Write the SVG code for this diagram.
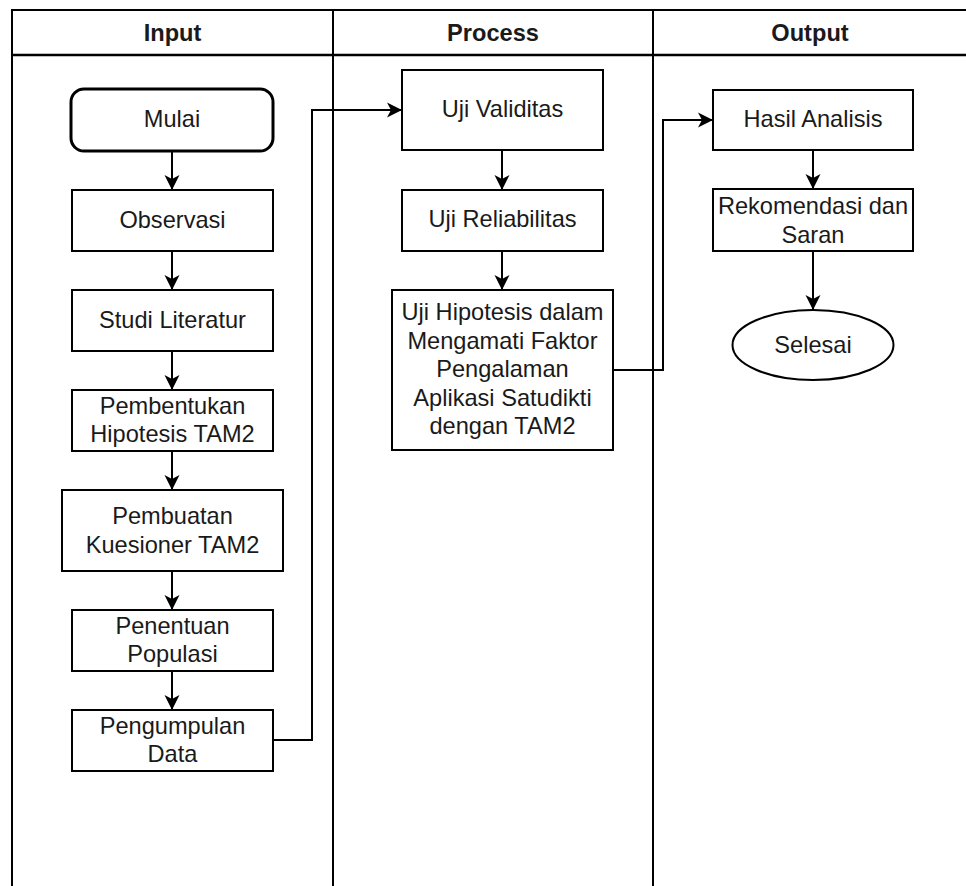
<svg xmlns="http://www.w3.org/2000/svg" width="966" height="886" viewBox="0 0 966 886">
<style>
.t{font-family:"Liberation Sans",Arial,sans-serif;font-size:23.6px;fill:#1a1a1a;text-anchor:middle}
.h{font-family:"Liberation Sans",Arial,sans-serif;font-size:23.6px;font-weight:bold;fill:#1a1a1a;text-anchor:middle}
.b{fill:#fff;stroke:#000;stroke-width:2}
.c{fill:none;stroke:#000;stroke-width:2}
.ln{stroke:#000;stroke-width:2;fill:none}
</style>
<defs>
<marker id="ar" markerUnits="userSpaceOnUse" markerWidth="20" markerHeight="20" viewBox="-16 -10 20 20" refX="0" refY="0" orient="auto">
<path d="M0,0 L-15,-7.5 L-11,0 L-15,7.5 Z" fill="#000"/>
</marker>
</defs>
<rect width="966" height="886" fill="#fff"/>
<g id="pool">
<path class="ln" d="M12,886 V10 H966"/>
<line x1="12" y1="55" x2="966" y2="55" stroke="#000" stroke-width="2.5"/>
<line class="ln" x1="333" y1="10" x2="333" y2="886"/>
<line class="ln" x1="653" y1="10" x2="653" y2="886"/>
<text class="h" x="172.5" y="41">Input</text>
<text class="h" x="493" y="41">Process</text>
<text class="h" x="810" y="41">Output</text>
</g>
<g id="connectors">
<line class="c" x1="172" y1="151" x2="172" y2="190" marker-end="url(#ar)"/>
<line class="c" x1="172" y1="251" x2="172" y2="290" marker-end="url(#ar)"/>
<line class="c" x1="172" y1="351" x2="172" y2="390" marker-end="url(#ar)"/>
<line class="c" x1="172" y1="451" x2="172" y2="490" marker-end="url(#ar)"/>
<line class="c" x1="172" y1="571" x2="172" y2="610" marker-end="url(#ar)"/>
<line class="c" x1="172" y1="671" x2="172" y2="710" marker-end="url(#ar)"/>
<path class="c" d="M273,740 H312 V110 H402" marker-end="url(#ar)"/>
<line class="c" x1="502" y1="150" x2="502" y2="190" marker-end="url(#ar)"/>
<line class="c" x1="502" y1="251" x2="502" y2="290" marker-end="url(#ar)"/>
<path class="c" d="M613,370 H663 V120 H713" marker-end="url(#ar)"/>
<line class="c" x1="813" y1="150" x2="813" y2="189" marker-end="url(#ar)"/>
<line class="c" x1="813" y1="251" x2="813" y2="310" marker-end="url(#ar)"/>
</g>
<g id="mulai">
<rect x="71" y="89" width="202" height="62" rx="13" fill="#fff" stroke="#000" stroke-width="3"/>
<text class="t" x="172" y="127">Mulai</text>
</g>
<g id="observasi">
<rect class="b" x="72" y="190" width="201" height="61"/>
<text class="t" x="172.5" y="227.5">Observasi</text>
</g>
<g id="studi">
<rect class="b" x="72" y="290" width="201" height="61"/>
<text class="t" x="172.5" y="327.5">Studi Literatur</text>
</g>
<g id="pembentukan">
<rect class="b" x="72" y="390" width="201" height="61"/>
<text class="t" x="172.5" y="413.5">Pembentukan</text>
<text class="t" x="172.5" y="441.5">Hipotesis TAM2</text>
</g>
<g id="pembuatan">
<rect class="b" x="62" y="490" width="221" height="81"/>
<text class="t" x="172.5" y="523.5">Pembuatan</text>
<text class="t" x="172.5" y="552.5">Kuesioner TAM2</text>
</g>
<g id="penentuan">
<rect class="b" x="72" y="610" width="201" height="61"/>
<text class="t" x="172.5" y="633.5">Penentuan</text>
<text class="t" x="172.5" y="661.5">Populasi</text>
</g>
<g id="pengumpulan">
<rect class="b" x="72" y="710" width="201" height="61"/>
<text class="t" x="172.5" y="733.5">Pengumpulan</text>
<text class="t" x="172.5" y="761.5">Data</text>
</g>
<g id="validitas">
<rect class="b" x="402" y="70" width="201" height="80"/>
<text class="t" x="502.5" y="117">Uji Validitas</text>
</g>
<g id="reliabilitas">
<rect class="b" x="402" y="190" width="201" height="61"/>
<text class="t" x="502.5" y="227">Uji Reliabilitas</text>
</g>
<g id="hipotesis">
<rect class="b" x="392" y="290" width="221" height="160"/>
<text class="t" x="502.5" y="320">Uji Hipotesis dalam</text>
<text class="t" x="502.5" y="348.5">Mengamati Faktor</text>
<text class="t" x="502.5" y="377">Pengalaman</text>
<text class="t" x="502.5" y="405.5">Aplikasi Satudikti</text>
<text class="t" x="502.5" y="434">dengan TAM2</text>
</g>
<g id="hasil">
<rect class="b" x="713" y="90" width="200" height="60"/>
<text class="t" x="813" y="127">Hasil Analisis</text>
</g>
<g id="rekomendasi">
<rect class="b" x="713" y="189" width="200" height="62"/>
<text class="t" x="813" y="213.5">Rekomendasi dan</text>
<text class="t" x="813" y="242.5">Saran</text>
</g>
<g id="selesai">
<ellipse class="b" cx="813" cy="345" rx="80.5" ry="35"/>
<text class="t" x="813" y="353">Selesai</text>
</g>
</svg>
